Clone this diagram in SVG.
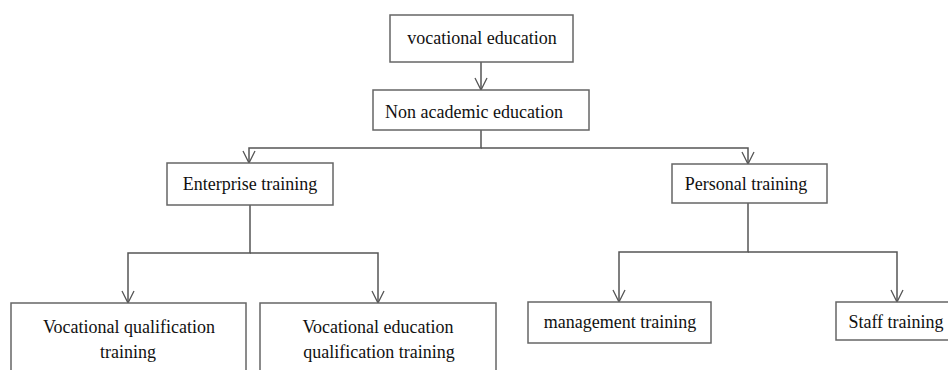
<svg xmlns="http://www.w3.org/2000/svg" width="948" height="370" viewBox="0 0 948 370">
<style>
.box{fill:#fff;stroke:#666;stroke-width:1.5}
.lbl{font-family:"Liberation Serif","Times New Roman",serif;font-size:18px;fill:#111;text-anchor:middle}
.con{fill:none;stroke:#555;stroke-width:1.5}
</style>
<defs>
<marker id="v" viewBox="-1 -7 14 14" refX="12" refY="0" markerWidth="14" markerHeight="14" markerUnits="userSpaceOnUse" orient="auto">
<path d="M0,-6 L12,0 L0,6" fill="none" stroke="#555" stroke-width="1.3"/>
</marker>
</defs>
<rect width="948" height="370" fill="#fff"/>
<g id="connectors">
<path class="con" d="M481,62 V90" marker-end="url(#v)"/>
<path class="con" d="M481,130 V148 H249 V163" marker-end="url(#v)"/>
<path class="con" d="M481,148 H748 V164" marker-end="url(#v)"/>
<path class="con" d="M250,205 V253 H128 V303" marker-end="url(#v)"/>
<path class="con" d="M250,253 H378 V303" marker-end="url(#v)"/>
<path class="con" d="M748,203 V252 H619 V302" marker-end="url(#v)"/>
<path class="con" d="M748,252 H897 V302" marker-end="url(#v)"/>
</g>
<g id="vocational-education">
<rect class="box" x="390" y="15" width="183" height="47"/>
<text class="lbl" x="482" y="44">vocational education</text>
</g>
<g id="non-academic-education">
<rect class="box" x="373" y="90" width="216" height="40"/>
<text class="lbl" x="474" y="118">Non academic education</text>
</g>
<g id="enterprise-training">
<rect class="box" x="167" y="163" width="166" height="42"/>
<text class="lbl" x="250" y="190">Enterprise training</text>
</g>
<g id="personal-training">
<rect class="box" x="672" y="164" width="155" height="39"/>
<text class="lbl" x="746" y="190">Personal training</text>
</g>
<g id="vocational-qualification-training">
<rect class="box" x="11" y="303" width="235" height="80"/>
<text class="lbl" x="129" y="333">Vocational qualification</text>
<text class="lbl" x="128" y="358">training</text>
</g>
<g id="vocational-education-qualification-training">
<rect class="box" x="260" y="303" width="236" height="80"/>
<text class="lbl" x="378" y="333">Vocational education</text>
<text class="lbl" x="379" y="358">qualification training</text>
</g>
<g id="management-training">
<rect class="box" x="528" y="302" width="183" height="41"/>
<text class="lbl" x="620" y="328">management training</text>
</g>
<g id="staff-training">
<rect class="box" x="836" y="302" width="130" height="38"/>
<text class="lbl" x="896" y="328">Staff training</text>
</g>
</svg>
